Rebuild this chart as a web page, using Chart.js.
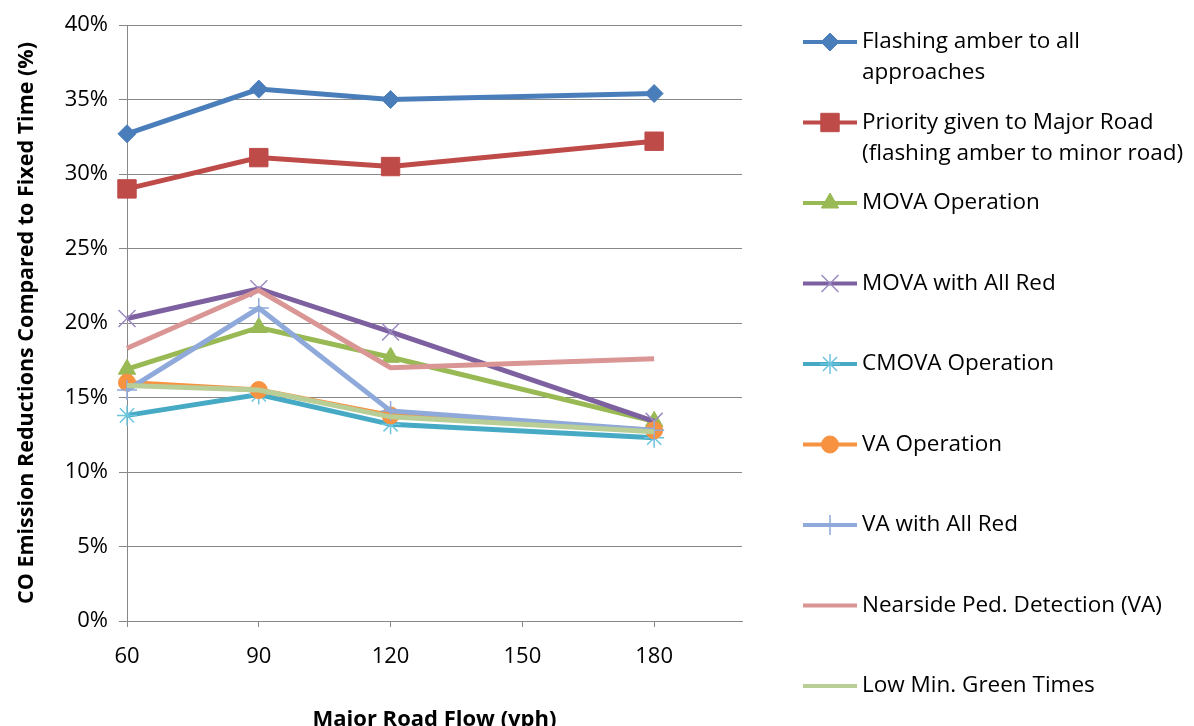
<!DOCTYPE html>
<html>
<head>
<meta charset="utf-8">
<script src="https://cdn.jsdelivr.net/npm/chart.js@4.4.1/dist/chart.umd.min.js"></script>
<style>
  html, body { margin: 0; padding: 0; background: #fff; }
  #wrap { width: 1194px; height: 726px; }
</style>
</head>
<body>
<div id="wrap"><canvas id="grafico"></canvas></div>
<script>
// Major road flow (vph)
const flows = [60, 90, 120, 180];
const xTicks = [60, 90, 120, 150, 180];

// CO emission reductions compared to fixed time (%)
const flashingAll = [32.7, 35.7, 35.0, 35.4];
const priorityMajor = [29.0, 31.1, 30.5, 32.2];
const movaOperation = [16.9, 19.7, 17.7, 13.4];
const movaAllRed = [20.3, 22.3, 19.4, 13.4];
const cmovaOperation = [13.8, 15.2, 13.2, 12.3];
const vaOperation = [16.0, 15.5, 13.8, 12.8];
const vaAllRed = [15.5, 21.0, 14.1, 12.8];
const nearsidePed = [18.3, 22.2, 17.0, 17.6];
const lowMinGreen = [15.8, 15.5, 13.7, 12.7];

const seriesLabels = [
  ["Flashing amber to all", "approaches"],
  ["Priority given to Major Road", "(flashing amber to minor road)"],
  ["MOVA Operation"],
  ["MOVA with All Red"],
  ["CMOVA Operation"],
  ["VA Operation"],
  ["VA with All Red"],
  ["Nearside Ped. Detection (VA)"],
  ["Low Min. Green Times"],
];

const FONT = "'Open Sans', 'Noto Sans', sans-serif";

function pontos(valores) {
  return flows.map((x, i) => ({ x, y: valores[i] }));
}

// estilo de cada serie: cor, marcador
const estilos = [
  { valores: flashingAll, cor: "#4A7EBB", ponto: "rectRot", raio: 9 },
  { valores: priorityMajor, cor: "#BE4B48", ponto: "rect", raio: 13 },
  { valores: movaOperation, cor: "#98B954", ponto: "triangle", raio: 10 },
  { valores: movaAllRed, cor: "#7D60A0", ponto: "crossRot", raio: 12, borda: "#9D8BC2", larg: 1.5 },
  { valores: cmovaOperation, cor: "#46AAC5", ponto: "star", raio: 10, borda: "#6CC4DD", larg: 1.5 },
  { valores: vaOperation, cor: "#F69240", ponto: "circle", raio: 8.5 },
  { valores: vaAllRed, cor: "#8EA9DA", ponto: "cross", raio: 10, borda: "#8EA9DA", larg: 1.5 },
  { valores: nearsidePed, cor: "#D99694", ponto: false, raio: 0 },
  { valores: lowMinGreen, cor: "#B9CD96", ponto: false, raio: 0 },
];

const datasets = estilos.map((s, i) => ({
  label: seriesLabels[i].join(" "),
  data: pontos(s.valores),
  borderColor: s.cor,
  backgroundColor: s.cor,
  borderWidth: 5,
  tension: 0,
  clip: false,
  pointStyle: s.ponto,
  pointRadius: s.raio,
  pointHoverRadius: s.raio,
  pointBackgroundColor: s.cor,
  pointBorderColor: s.borda || s.cor,
  pointBorderWidth: s.larg || 1,
  order: estilos.length - i, // series later in the list are drawn on top
}));

// Legenda desenhada no canvas, a direita
const legendaPlugin = {
  id: "legendaLateral",
  afterDraw(chart) {
    const ctx = chart.ctx;
    const topo = 42;
    const passo = 80.5;
    ctx.save();
    chart.data.datasets.forEach((ds, i) => {
      const y = topo + i * passo;
      ctx.strokeStyle = ds.borderColor;
      ctx.lineWidth = 4;
      ctx.beginPath();
      ctx.moveTo(803, y);
      ctx.lineTo(857, y);
      ctx.stroke();
      if (ds.pointStyle && Chart.helpers && Chart.helpers.drawPoint) {
        ctx.fillStyle = ds.pointBackgroundColor;
        ctx.strokeStyle = ds.pointBorderColor;
        ctx.lineWidth = ds.pointBorderWidth;
        Chart.helpers.drawPoint(ctx, {
          pointStyle: ds.pointStyle,
          radius: ds.pointRadius,
          borderWidth: ds.pointBorderWidth,
          rotation: 0,
        }, 830, y);
      }
      ctx.fillStyle = "#000";
      ctx.font = "22.5px " + FONT;
      ctx.textAlign = "left";
      ctx.textBaseline = "middle";
      seriesLabels[i].forEach((linha, j) => {
        ctx.fillText(linha, 862, y + j * 31);
      });
    });
    ctx.restore();
  },
};

new Chart(document.getElementById("grafico").getContext("2d"), {
  type: "line",
  data: { datasets },
  plugins: [legendaPlugin],
  options: {
    responsive: true,
    maintainAspectRatio: false,
    animation: false,
    layout: { padding: { left: 0, right: 452, top: 25, bottom: 0 } },
    plugins: {
      legend: { display: false },
      tooltip: { enabled: false },
    },
    scales: {
      x: {
        type: "linear",
        min: 60,
        max: 200,
        afterBuildTicks: (scale) => {
          scale.ticks = xTicks.map((v) => ({ value: v }));
        },
        afterFit: (scale) => {
          scale.height = 105;
        },
        grid: { drawOnChartArea: false, drawTicks: true, tickLength: 6, color: "#888" },
        border: { display: true, color: "#888", width: 1 },
        ticks: { font: { family: FONT, size: 22 }, color: "#000", padding: 17, maxRotation: 0 },
        title: {
          display: true,
          text: "Major Road Flow (vph)",
          font: { family: FONT, size: 22, weight: "bold", lineHeight: 1 },
          color: "#000",
          padding: { top: 0, bottom: -5 },
        },
      },
      y: {
        min: 0,
        max: 40,
        afterFit: (scale) => {
          scale.width = 127;
        },
        grid: { drawOnChartArea: true, drawTicks: true, tickLength: 8, color: "#888" },
        border: { display: true, color: "#888", width: 1 },
        ticks: {
          stepSize: 5,
          font: { family: FONT, size: 22 },
          color: "#000",
          padding: 11,
          callback: (v) => v + "%",
        },
        title: {
          display: true,
          text: "CO Emission Reductions Compared to Fixed Time (%)",
          font: { family: FONT, size: 21.5, weight: "bold", lineHeight: 1 },
          color: "#000",
          padding: { top: 16, bottom: 0 },
        },
      },
    },
  },
});
</script>
</body>
</html>
